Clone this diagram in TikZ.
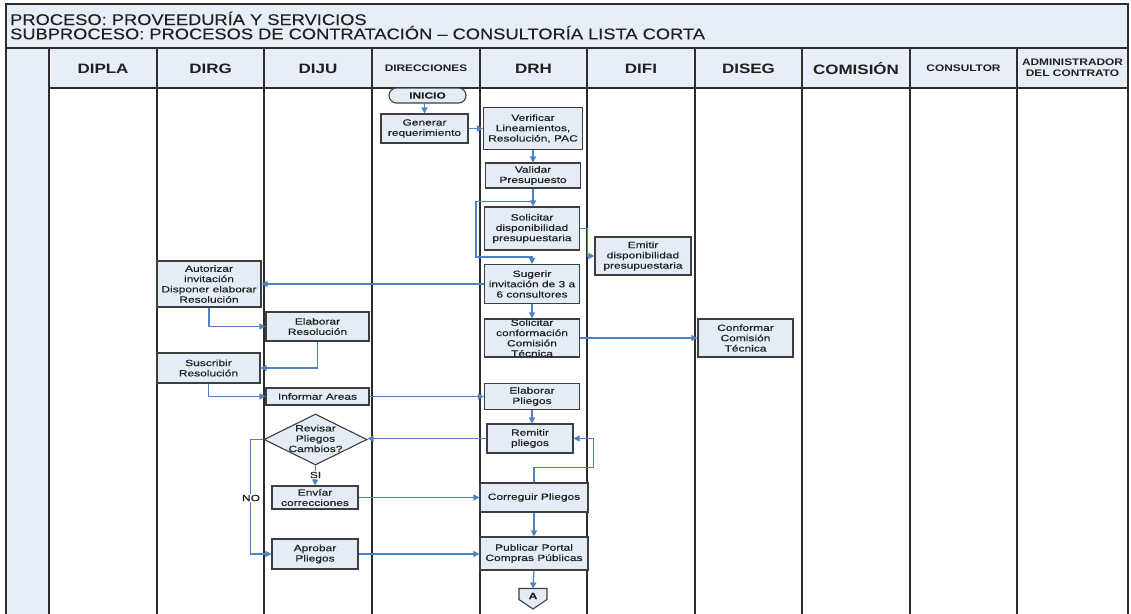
\documentclass[tikz,border=0pt]{standalone}
\usepackage{fontspec}
\setmainfont{Liberation Sans}
\newfontfamily\nodefont[FakeStretch=1.33,FakeBold=0.35]{Liberation Sans}
\newfontfamily\hdrfont[FakeStretch=1.25]{Liberation Sans}
\newfontfamily\titlefont[FakeStretch=1.18,FakeBold=0.2]{Liberation Sans}
\usetikzlibrary{shapes.geometric,arrows.meta,calc}
\definecolor{boxfill}{RGB}{228,236,247}
\definecolor{hdrfill}{RGB}{231,238,248}
\definecolor{boxdraw}{RGB}{62,62,62}
\definecolor{flowc}{RGB}{79,129,196}
\definecolor{lanec}{RGB}{45,45,45}
\definecolor{txtc}{RGB}{32,32,32}
\begin{document}
\begin{tikzpicture}[x=1pt,y=-1pt,
  box/.style={draw=boxdraw, fill=boxfill, line width=1.1pt, inner sep=0pt, align=center,
    text=txtc, font=\nodefont\fontsize{9}{10.3}\selectfont},
  txt/.style={inner sep=0pt, align=center, text=txtc, font=\nodefont\fontsize{9}{10.3}\selectfont},
  flow/.style={draw=flowc, line width=1.2pt, -{Triangle[length=6pt,width=6pt]}},
  lane/.style={draw=lanec, line width=1.6pt},
  hdr/.style={inner sep=0pt, align=center, text=txtc, font=\hdrfont\bfseries\fontsize{13.6}{15}\selectfont},
  hdrs/.style={inner sep=0pt, align=center, text=txtc, font=\hdrfont\bfseries\fontsize{9.5}{10.8}\selectfont},
  ttl/.style={inner sep=0pt, anchor=base west, text=txtc, font=\titlefont\fontsize{15.5}{16}\selectfont}
]
\clip (0,0) rectangle (1131,613);
\fill[white] (0,0) rectangle (1131,613);
% fills
\fill[hdrfill] (6,4) rectangle (1128,48);
\fill[hdrfill] (6,48) rectangle (1128,88);
\fill[hdrfill] (6,48) rectangle (49,620);
% lane lines
\draw[lane] (6,620) -- (6,4) -- (1128,4) -- (1128,620);
\draw[lane] (6,48) -- (1128,48);
\draw[lane] (49,88) -- (1128,88);
\foreach \xx in {49,157,264,372,480,587,695,802,910,1017}{
  \draw[lane] (\xx,48) -- (\xx,620);
}
% title
\node[ttl] (t1) at (10,25) {PROCESO: PROVEEDURÍA Y SERVICIOS};
\node[ttl] (t2) at (10,39.3) {SUBPROCESO: PROCESOS DE CONTRATACIÓN – CONSULTORÍA LISTA CORTA};
% headers
\node[hdr] (h1) at (103,69) {DIPLA};
\node[hdr] (h2) at (210.5,69) {DIRG};
\node[hdr] (h3) at (318,69) {DIJU};
\node[hdrs] (h4) at (426,68.5) {DIRECCIONES};
\node[hdr] (h5) at (533.5,69) {DRH};
\node[hdr] (h6) at (641,69) {DIFI};
\node[hdr] (h7) at (748.5,69) {DISEG};
\node[hdr] (h8) at (856,69) {COMISIÓN};
\node[hdrs] (h9) at (963.5,68.5) {CONSULTOR};
\node[hdrs] (h10) at (1072.5,68) {ADMINISTRADOR\\DEL CONTRATO};
% nodes
\node[box, rounded corners=7.5pt, minimum width=77pt, minimum height=15pt, font=\nodefont\bfseries\fontsize{9}{10.3}\selectfont] (inicio) at (427.5,95.5) {INICIO};
\node[box, minimum width=87pt, minimum height=29pt] (gen) at (424.5,128.5) {Generar\\requerimiento};
\node[box, minimum width=99pt, minimum height=42pt] (ver) at (533,128.5) {Verificar\\Lineamientos,\\Resolución, PAC};
\node[box, minimum width=95pt, minimum height=25pt] (val) at (533,175.5) {Validar\\Presupuesto};
\node[box, minimum width=95pt, minimum height=43pt] (sol) at (532,228.5) {Solicitar\\disponibilidad\\presupuestaria};
\node[box, minimum width=96pt, minimum height=38pt] (emi) at (643,256) {Emitir\\disponibilidad\\presupuestaria};
\node[box, minimum width=95pt, minimum height=39pt] (sug) at (532,284) {Sugerir\\invitación de 3 a\\6 consultores};
\node[box, minimum width=104pt, minimum height=46pt] (aut) at (209,284) {Autorizar\\invitación\\Disponer elaborar\\Resolución};
\node[box, minimum width=103pt, minimum height=29pt] (elr) at (317.5,326.5) {Elaborar\\Resolución};
\node[box, minimum width=103pt, minimum height=30pt] (sus) at (208.5,368) {Suscribir\\Resolución};
\node[box, minimum width=103pt, minimum height=17pt] (inf) at (317.5,396.5) {Informar Areas};
\node[box, minimum width=95pt, minimum height=38pt] (scc) at (532,338) {};
\node[txt] (scct) at (532,338) {Solicitar\\conformación\\Comisión\\Técnica};
\node[box, minimum width=95pt, minimum height=38pt] (cct) at (745.5,338) {Conformar\\Comisión\\Técnica};
\node[box, minimum width=95pt, minimum height=26pt] (elp) at (532,396.5) {Elaborar\\Pliegos};
\node[box, minimum width=86pt, minimum height=29pt] (rem) at (530,438.5) {Remitir\\pliegos};
\node[box, shape=diamond, minimum width=103pt, minimum height=51pt] (rev) at (315.5,439.5) {};
\node[txt] (revt) at (315.5,438.5) {Revisar\\Pliegos\\Cambios?};
\node[box, minimum width=86pt, minimum height=23pt] (env) at (315,497.5) {Envíar\\correcciones};
\node[box, minimum width=108pt, minimum height=29pt] (cor) at (534,497.5) {Correguir Pliegos};
\node[box, minimum width=86pt, minimum height=30pt] (apr) at (315,554) {Aprobar\\Pliegos};
\node[box, minimum width=108pt, minimum height=33pt] (pub) at (534,553.5) {Publicar Portal\\Compras Públicas};
% off-page connector A
\coordinate (conAtop) at (533,588.5);
\draw[draw=boxdraw, fill=boxfill, line width=1.1pt] (519,588.5) -- (547,588.5) -- (547,599.5) -- (533,609) -- (519,599.5) -- cycle;
\node[txt, font=\nodefont\bfseries\fontsize{9}{10.3}\selectfont] (conA) at (533,596) {A};
% connectors
\draw[flow] (gen.north |- inicio.south) -- (gen.north);
\draw[flow] (gen.east) -- (ver.west |- gen.east);
\draw[flow] (ver.south) -- (val.north);
\draw[flow] (val.south) -- (val.south |- sol.north);
\coordinate (bpx) at (476,230);
\draw[flow] ($(sol.north)+(0,-5)$) -| (bpx) |- ($(sug.north)+(0,-7)$) -- (sug.north);
\draw[flow] (sol.east) -| ($(sol.east)!0.5!(emi.west)$) |- (emi.west);
\draw[flow] (sug.west) -- (aut.east);
\draw[flow] (aut.south) |- (elr.west);
\draw[flow] (elr.south) |- (sus.east);
\draw[flow] (sus.south) |- (inf.west);
\draw[flow] (inf.east) -- (elp.west);
\draw[flow] (sug.south) -- (scc.north);
\draw[flow] (scc.east) -- (cct.west);
\draw[flow] (elp.south) -- (elp.south |- rem.north);
\draw[flow] (rem.west) -- (rev.east |- rem.west);
\draw[flow] (rev.south) -- (env.north);
\node[txt, fill=white, inner sep=0.5pt] (si) at (315.5,475) {SI};
\draw[flow] (env.east) -- (cor.west);
\draw[flow] (cor.north) -- ++(0,-15) -| ($(rem.east)+(20,0)$) -- (rem.east);
\draw[flow] (rev.west) -- ++(-13,0) |- (apr.west);
\node[txt, fill=white, inner sep=1pt] (no) at (251,498) {NO};
\draw[flow] (apr.east) -- (pub.west |- apr.east);
\draw[flow] (cor.south) -- (pub.north);
\draw[flow] (pub.south) -- (conAtop);
\end{tikzpicture}
\end{document}
